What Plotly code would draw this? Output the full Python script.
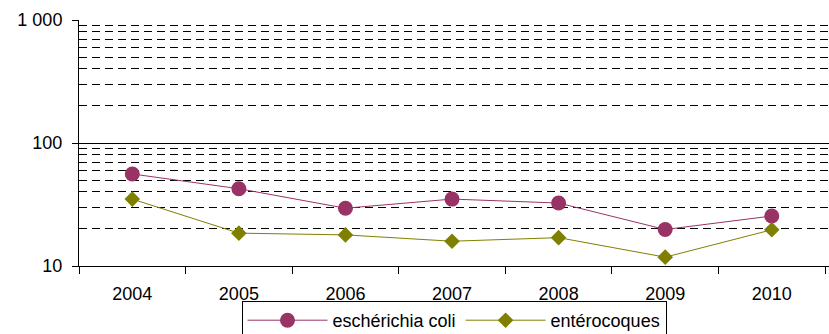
import plotly.graph_objects as go

years = ["2004", "2005", "2006", "2007", "2008", "2009", "2010"]
ecoli = [56, 42.5, 29.5, 35, 32.5, 19.8, 25.5]
entero = [35, 18.5, 17.9, 15.9, 17.0, 11.8, 19.7]
ytick_vals = [10, 100, 1000]
ytick_text = ["10", "100", "1 000"]
minor_vals = [20, 30, 40, 50, 60, 70, 80, 90, 200, 300, 400, 500, 600, 700, 800, 900]

fig = go.Figure()
fig.add_trace(go.Scatter(
    x=years, y=ecoli, name="eschérichia coli", mode="lines+markers",
    line=dict(color="#993366", width=1),
    marker=dict(symbol="circle", size=15, color="#993366"),
))
fig.add_trace(go.Scatter(
    x=years, y=entero, name="entérocoques", mode="lines+markers",
    line=dict(color="#808000", width=1),
    marker=dict(symbol="diamond", size=12, color="#808000"),
))

fig.update_layout(
    width=829, height=334,
    margin=dict(l=79, r=0, t=20, b=68),
    paper_bgcolor="white", plot_bgcolor="white",
    font=dict(family="Liberation Sans", size=18, color="black"),
    showlegend=True,
    legend=dict(
        orientation="h", x=0.5, xanchor="center",
        yref="container", y=1 - 301 / 334, yanchor="top",
        bordercolor="black", borderwidth=1, font=dict(family="Liberation Sans", size=18),
        itemwidth=80, tracegroupgap=0,
    ),
    xaxis=dict(
        type="category", range=[-0.5, 6.537], automargin=False,
        showline=True, linecolor="black", linewidth=1,
        ticks="outside", tickson="boundaries", ticklen=7, tickcolor="black",
        tickfont=dict(family="Liberation Sans", size=18), ticklabelstandoff=11,
        showgrid=False, zeroline=False,
    ),
    yaxis=dict(
        type="log", range=[1, 3], automargin=False,
        tickvals=ytick_vals, ticktext=ytick_text,
        tickfont=dict(family="Liberation Sans", size=18), ticklabelstandoff=6,
        showline=True, linecolor="black", linewidth=1,
        ticks="outside", ticklen=6, tickcolor="black",
        showgrid=True, gridcolor="black", gridwidth=1,
        zeroline=False,
        minor=dict(tickvals=minor_vals, showgrid=True, gridcolor="black",
                   griddash="8px,5px", gridwidth=1, ticks=""),
    ),
)

fig.write_html("out.html", config={"displayModeBar": False},
               post_script="document.body.style.margin='0';document.body.style.overflow='hidden';")
